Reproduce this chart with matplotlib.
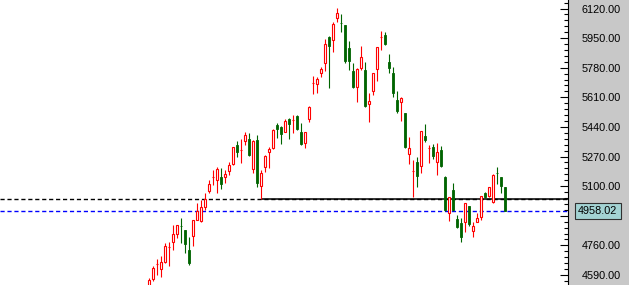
import matplotlib
matplotlib.use("Agg")
import matplotlib.pyplot as plt
from matplotlib.ticker import MultipleLocator, FormatStrFormatter

# daily candles, oldest first
opens = [4504, 4567, 4651, 4624, 4664, 4749, 4780, 4825, 4874, 4848,
         4734, 4814, 4906, 4900, 4980, 5072, 5150, 5135, 5152, 5152,
         5187, 5227, 5336, 5305, 5360, 5371, 5198, 5365, 5101, 5210,
         5296, 5319, 5451, 5440, 5411, 5486, 5478, 5503, 5411, 5348,
         5486, 5690, 5687, 5750, 5807, 5956, 5939, 6065, 6039, 6025,
         5893, 5761, 5669, 5778, 5767, 5572, 5646, 5773, 5954, 5968,
         5813, 5750, 5595, 5583, 5520, 5285, 5185, 5239, 5215, 5388,
         5317, 5325, 5239, 5308, 5152, 4946, 5078, 4912, 4889, 4894,
         4986, 4843, 4894, 4923, 5061, 5043, 5009, 5177, 5152, 5095]
highs = [4573, 4642, 4682, 4699, 4774, 4780, 4877, 4879, 4917, 4850,
         4808, 4908, 5003, 5021, 5061, 5135, 5192, 5210, 5204, 5192,
         5239, 5327, 5360, 5371, 5411, 5405, 5365, 5394, 5192, 5279,
         5325, 5428, 5463, 5446, 5486, 5492, 5509, 5509, 5463, 5411,
         5560, 5732, 5727, 5784, 5945, 5962, 6043, 6123, 6088, 6027,
         5933, 5807, 5778, 5905, 5813, 5635, 5752, 5901, 5991, 5985,
         5859, 5784, 5646, 5612, 5522, 5382, 5250, 5267, 5419, 5457,
         5336, 5342, 5348, 5331, 5158, 5040, 5118, 4934, 4917, 5005,
         4988, 4894, 4946, 5045, 5066, 5097, 5170, 5210, 5154, 5097]
lows = [4487, 4556, 4590, 4578, 4659, 4642, 4734, 4802, 4774, 4716,
        4648, 4757, 4904, 4894, 4963, 5061, 5106, 5061, 5083, 5118,
        5164, 5221, 5267, 5233, 5336, 5273, 5175, 5095, 5024, 5181,
        5204, 5313, 5377, 5342, 5411, 5371, 5405, 5423, 5336, 5319,
        5469, 5629, 5635, 5727, 5761, 5664, 5870, 6042, 5985, 5807,
        5767, 5664, 5583, 5767, 5554, 5469, 5623, 5704, 5882, 5910,
        5750, 5612, 5520, 5474, 5319, 5227, 5038, 5095, 5175, 5354,
        5233, 5256, 5164, 5210, 4957, 4900, 4957, 4860, 4780, 4837,
        4872, 4808, 4892, 4906, 5032, 5038, 5003, 5112, 5061, 4955]
closes = [4561, 4630, 4655, 4664, 4757, 4753, 4825, 4877, 4870, 4768,
          4659, 4906, 4958, 4980, 5026, 5112, 5154, 5198, 5112, 5169,
          5221, 5325, 5296, 5309, 5394, 5279, 5360, 5118, 5175, 5273,
          5313, 5423, 5428, 5400, 5474, 5457, 5482, 5428, 5342, 5411,
          5554, 5694, 5715, 5773, 5916, 5905, 6031, 6094, 6035, 5819,
          5819, 5669, 5773, 5842, 5560, 5589, 5750, 5899, 5958, 5916,
          5778, 5635, 5532, 5606, 5325, 5319, 5189, 5158, 5417, 5365,
          5321, 5273, 5296, 5215, 4963, 5038, 4963, 4866, 4808, 5003,
          4883, 4872, 4917, 5043, 5038, 5095, 5164, 5173, 5101, 4958.02]

support_level = 5024
support_start = 28
last_price = 4958.02

UP = "#ff0000"
DOWN = "#006400"

fig = plt.figure(figsize=(6.29, 2.85), dpi=100, facecolor="#c8c8c8")
ax = fig.add_axes([0, 0, 568 / 629, 1])
ax.set_facecolor("white")

x = list(range(len(opens)))
for i in x:
    o, h, l, c = opens[i], highs[i], lows[i], closes[i]
    up = c >= o
    col = UP if up else DOWN
    ax.vlines(i, l, h, color=col, lw=0.8, zorder=2)
    lo, hi = min(o, c), max(o, c)
    if up:
        ax.bar(i, hi - lo, bottom=lo, width=0.55, facecolor="white",
               edgecolor=col, linewidth=0.8, zorder=3)
    else:
        ax.bar(i, hi - lo, bottom=lo, width=0.6, facecolor=col,
               edgecolor=col, linewidth=0.6, zorder=3)

# levels
ax.axhline(support_level, color="black", lw=1.0, ls=(0, (3, 2)), zorder=1)
ax.hlines(support_level, support_start, 104.7, color="black", lw=1.1, zorder=1)
ax.axhline(last_price, color="#0000ff", lw=1.0, ls=(0, (3, 2)), zorder=1)

ax.set_xlim(-37.3, 104.7)
ax.set_ylim(4532.6, 6168.8)

for side in ["left", "top", "bottom"]:
    ax.spines[side].set_visible(False)
ax.spines["right"].set_color("black")
ax.spines["right"].set_linewidth(0.8)

ax.set_xticks([])
ax.yaxis.tick_right()
ax.yaxis.set_minor_locator(MultipleLocator(34))
ax.yaxis.set_major_formatter(FormatStrFormatter("%.2f"))
ax.set_yticks([4590 + 170 * k for k in range(10)])
ax.tick_params(axis="y", which="major", direction="in", length=6, width=0.8,
               pad=10, labelsize=7.8, labelcolor="black")
ax.tick_params(axis="y", which="minor", direction="in", length=3, width=0.8)
for lab in ax.get_yticklabels():
    lab.set_fontfamily("Liberation Sans")

# last price tag, drawn over the axis label it hides
ax.text(1.018, last_price, "%.2f" % last_price, transform=ax.get_yaxis_transform(),
        fontsize=7.8, family="Liberation Sans", va="center", ha="left",
        clip_on=False, zorder=5,
        bbox=dict(boxstyle="square,pad=0.3", facecolor="#a3d3d3",
                  edgecolor="#303030", linewidth=0.8))

fig.savefig("out.png", dpi=100, facecolor=fig.get_facecolor())
